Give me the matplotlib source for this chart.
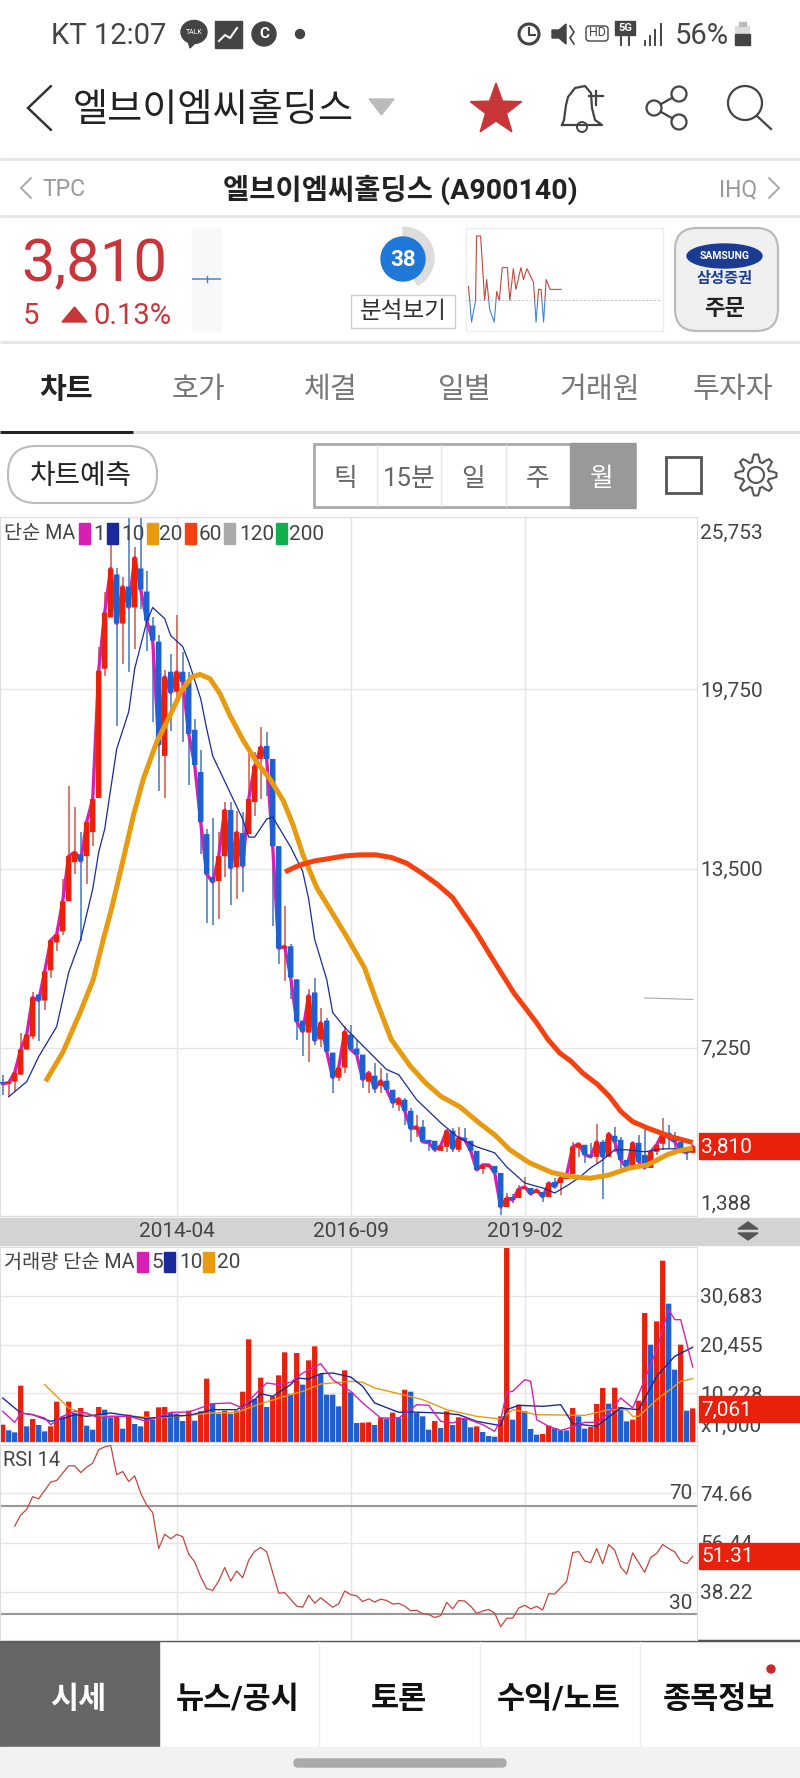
import numpy as np
import matplotlib
matplotlib.use('Agg')
import matplotlib.pyplot as plt
from matplotlib.patches import Rectangle, FancyBboxPatch, Circle, Ellipse, Polygon, Wedge
from matplotlib.transforms import ScaledTranslation

plt.rcParams['font.family'] = ['Roboto', 'Noto Sans CJK KR', 'DejaVu Sans']

# monthly candles, 2011-11 .. 2021-06
opens = [6035,6000,6070,6315,7190,7640,9110,8900,9950,10925,11310,12360,13720,14000,13930,14770,
         15960,20465,22250,23750,22040,23330,22600,23960,23155,21970,21410,17425,20360,19660,20360,20010,
         18335,16865,14700,13200,13060,13930,15540,13545,14735,14700,15820,17320,17775,17320,14280,10715,
         10790,9635,8200,7780,9180,7540,8200,7085,6210,6560,7710,7225,7015,6070,6280,5930,
         6105,5790,5265,5440,5055,4395,4500,4045,4010,3660,3800,4360,3695,4115,4010,3660,
         3030,3100,3135,2890,1700,2050,2015,2330,2365,2190,2225,2050,2575,2540,2680,2855,
         3765,3870,3520,3450,3975,3450,4185,4045,3345,3065,3940,3520,3065,3625,3905,4290,
         4150,3975,3660,3590]
highs = [6315,6035,6385,7780,7710,9180,9110,9915,10995,11205,13130,16380,15640,14770,15120,15920,
         21235,23155,24760,23960,23645,25705,24690,25740,23855,22280,21650,20430,20990,22320,21060,20360,
         18720,17635,14875,15260,14770,15820,15820,15500,15470,17565,17565,18440,18265,17320,14280,12185,
         10855,9635,8200,9285,9700,8655,8305,7085,6560,8025,8060,7540,7015,6455,6735,6560,
         6385,5790,5475,5510,5160,4915,4740,4045,4010,3835,4360,4465,4500,4465,4010,3660,
         3170,3170,3135,2890,2190,2150,2470,2750,2365,2295,2225,2540,2715,2715,2820,3975,
         3905,3870,3940,4600,4045,4325,4500,4150,3345,3940,4220,4570,3625,3870,4810,4570,
         4325,3975,3800,3810]
lows = [5616,5546,5720,6315,7190,7570,7500,8585,9670,10610,11170,12360,13300,10960,12955,14280,
        15960,20220,22250,18475,20640,20360,21165,22560,21095,18610,16200,15960,18300,19420,17915,16410,
        16865,14000,11590,11520,11730,13200,12220,12430,12670,14700,15330,15920,16030,11485,10160,9565,
        8935,7540,6980,6770,7360,7290,7120,5685,6105,6385,7190,7015,5860,5685,5685,5685,
        5790,5160,5055,4570,3975,4150,3975,3660,3625,3660,3625,3625,3625,4045,3660,2960,
        2855,3100,2890,1425,1700,1840,2015,2330,2120,2190,1875,2050,2400,2120,2680,2855,
        3450,3240,3450,3240,1980,3450,3625,3065,2960,2995,3275,3065,3065,3520,3695,3765,
        3695,3625,3345,3590]
closes = [6000,6035,6385,7190,7710,9005,8900,9915,10995,11205,12360,13930,14070,13755,15120,15920,
          20395,22420,23960,22040,23330,22600,24340,23225,22140,21445,17810,20185,19630,20360,20010,18195,
          17110,15120,13300,13025,13930,15540,13510,14770,13580,15920,17075,17740,17320,14280,10715,10790,
          9700,8165,7815,9075,7500,8130,7120,6210,6560,7815,7190,7015,6140,6385,5825,6105,
          5790,5335,5475,5055,4430,4500,3975,3940,3695,3835,4360,3730,4115,4045,3660,2995,
          3170,3170,2890,1700,2015,1945,2330,2400,2155,2295,2050,2540,2400,2715,2820,3800,
          3905,3520,3450,3975,3450,4255,3975,3345,3065,3940,3275,3065,3625,3870,4290,4115,
          3975,3660,3590,3810]

ma10_idx = [1,4,6,9,11,13,15,16,17,19,21,22,24,25,27,28,30,31,33,34,35,38,40,41,42,44,45,48,50,51,52,54,55,57,59,61,64,66,69,73,76,79,82,84,87,90,92,94,96,98,100,102,104,107,110,113,114]
ma10_val = [5546,6070,6945,7990,9880,11030,12780,14070,14875,17670,18960,20465,22100,22600,22210,21620,21235,20710,19420,18370,17425,16100,15225,14595,14595,15225,15295,14245,13400,12430,11030,9635,8480,7960,7540,7120,6490,6315,5440,4640,4115,3800,3590,3100,2540,2365,2190,2436,2715,3065,3345,3695,3695,3625,3730,3730,3695]
ma20_idx = [7.16,10.1,12.88,15.1,16.77,18.16,20.1,21.77,23.44,25.66,27.88,29.83,31.49,32.88,34.55,36.22,37.88,40.1,42.33,44.55,46.77,48.44,50.1,51.06,52.33,54.56,57.43,60.3,62.2,64.77,67.96,70.5,73.06,76.25,79.44,82,84.54,87.73,91.55,94.74,97.93,101.12,104.3,107.5,110.7,112.6,115]
ma20_val = [6080,7129,8470,9635,11030,12120,13827,15340,16622,17904,18834,19707,20175,20266,20116,19592,18834,17960,17205,16622,15864,14990,13942,13477,12837,12080,11091,10043,8935,7537,6605,6024,5556,5186,4627,4218,3694,3250,2901,2761,2704,2820,3055,3170,3520,3659,3753]
ma60_idx = [47.04,49.46,52.01,54.56,57.1,59.67,62.2,64.77,67.3,69.87,72.42,74.97,76.88,78.8,81.35,83.26,85.18,87.09,89,90.9,92.83,94.74,96.66,99.2,101.12,103.03,104.95,107.5,111.3,115]
ma60_val = [13383,13617,13767,13851,13942,13977,13977,13886,13687,13338,12953,12488,11905,11321,10448,9808,9169,8645,8121,7537,7072,6778,6373,5965,5556,5032,4683,4452,4158,3949]
stray_idx = [107,115]
stray_val = [8990,8935]

volume = [3640,2450,2030,11830,3290,4830,3570,2240,3290,8470,5390,8470,6090,7140,3430,2590,
          7350,6790,5180,5390,2800,5740,3780,3290,6440,4690,7280,7350,6090,5950,4410,6580,
          4480,6440,13300,8120,5950,6580,5950,6580,10570,21560,9030,13510,7350,9590,14000,18830,
          10080,18690,12040,17150,20090,14280,9940,9940,7490,15050,10430,3990,4060,4130,3570,5110,
          4900,6160,5180,10990,10570,6090,5390,2590,4410,2940,6440,3570,5180,4830,3080,3290,
          2100,1260,1120,5390,40950,4690,7840,6440,2730,1540,1680,3430,2870,2450,2440,7140,
          5390,2800,3150,7980,11340,8050,11410,7350,4340,4690,8680,27090,20440,25340,38080,29050,
          15190,20440,6580,7061]
vol5_idx = [0,2,3,5,7,8,10,12,14,16,18,21,24,28,31,35,38,40,42,44,46,48,50,53,55,58,60,63,66,69,71,73,75,77,80,82,83,84,85,87,88,89,91,93,95,97,99,101,103,105,107,109,111,112,113,114,115]
vol5_val = [6440,4130,6090,5740,5040,3640,5390,6440,6090,5040,5390,5390,4340,6230,6300,8050,8190,7140,9940,12390,12040,12530,14490,16450,13090,10640,8190,5040,5040,7840,7700,4340,3990,5040,3640,2240,4690,10430,10640,13090,12740,4690,3290,2450,3150,4130,4130,6090,9240,7140,13090,19390,27790,25690,25690,20790,15750]
vol10_idx = [0,3,5,8,10,12,14,18,21,24,27,31,35,39,42,43,45,48,49,51,53,55,58,60,62,66,68,73,76,79,83,84,86,90,93,95,99,103,106,109,112,115]
vol10_val = [9240,6090,5740,4340,4900,5740,5390,6090,5530,4900,5390,5600,6790,6790,8890,10150,9590,12040,13440,13230,14350,14490,13650,11690,8190,6230,6300,6090,5740,4340,3430,6790,7700,7490,7840,3850,3290,7140,6790,13790,17990,19880]
vol20_idx = [7,9,11,14,18,22,25,31,35,39,43,47,50,53,58,60,62,66,70,74,79,83,85,89,97,101,104,105,106,109,113,115]
vol20_val = [12040,9590,7140,5740,5390,5390,5040,5600,6090,6230,8050,9590,10640,12180,12740,12530,11340,10150,8890,6790,5390,4830,6790,5740,5600,6790,6790,5390,5390,8890,12740,13300]

rsi_idx = [2,3,4,5,6,8,9,11,12,13,14,15,16,17,18,19,20,21,22,23,24,25,26,27,28,29,30,31,32,33,34,35,36,37,38,39,40,41,42,43,44,46,47,49,50,51,52,53,55,56,57,58,59,60,61,62,63,64,65,66,67,68,69,70,71,72,73,74,75,76,77,78,79,80,81,82,83,84,85,86,87,88,89,90,91,92,93,94,95,96,97,98,99,100,101,102,103,104,105,107,108,109,110,111,112,113,114,115]
rsi_val = [62.5,66.6,68.7,73.4,72.6,78.8,79.4,84.8,84.8,82.3,84.3,85.8,90.8,91.8,92.4,81.5,82.7,79.0,81.1,74.7,70.3,67.5,54.2,59.5,57.8,59.4,58.6,52.1,49.3,43.7,39.4,38.7,42.2,47.2,42.2,45.9,43.4,49.9,53.2,54.6,53.0,37.7,37.9,32.9,32.5,36.9,34.0,36.0,32.5,33.8,38.5,37.2,36.7,34.6,35.6,34.4,35.5,35.0,33.7,33.9,32.9,31.2,31.4,30.1,29.8,28.7,29.4,34.3,31.9,35.0,34.8,32.9,30.2,31.1,31.7,30.3,25.3,28.4,28.5,32.2,33.2,31.9,32.8,31.5,37.5,37.4,39.7,42.0,52.7,53.1,49.6,49.0,54.2,48.6,55.7,53.6,47.4,44.8,52.6,45.4,50.9,52.4,55.7,54.2,53.0,49.6,48.6,51.31]

price_ticks = [1388, 7250, 13500, 19750, 25753]
vol_ticks = [0, 10228, 20455, 30683]
rsi_ticks = [38.22, 56.44, 74.66]
date_pos = [29, 58, 87]
date_labels = ['2014-04', '2016-09', '2019-02']

mini_pos = [916,922,930,932,940,948,952,958,967,972,977,983,993,998,1005,1010,1020,1025,1032,1045,1050,1055,1060,1065,1070,1078,1100]
mini_val = [14,-22,0,65,65,0,21,-9,-22,9,0,33,33,0,32,11,33,21,32,18,-22,11,11,-22,21,11,11]

tabs = ['차트', '호가', '체결', '일별', '거래원', '투자자']
periods = ['틱', '15분', '일', '주', '월']
bottom_tabs = ['뉴스/공시', '토론', '수익/노트', '종목정보']

RED = '#e8200c'
BLUE = '#1f5fd0'
WICK_RED = '#d9796e'
WICK_BLUE = '#6c95cc'
MAGENTA = '#d81fb4'
NAVY = '#1a2a9c'
ORANGE = '#e89a10'
RED60 = '#f5400f'
GRID = '#e6e6e6'
TXT = '#444444'

W, H = 800, 1778
fig = plt.figure(figsize=(W / 100, H / 100), dpi=100, facecolor='white')


def px_axes(left, top, right, bottom, **kw):
    return fig.add_axes([left / W, 1 - bottom / H, (right - left) / W, (bottom - top) / H], **kw)


# page chrome in pixel coordinates, behind the charts
bg = px_axes(0, 0, W, H, zorder=0)
bg.set_xlim(0, W)
bg.set_ylim(H, 0)
bg.axis('off')


def hline(a, y, x0=0, x1=W, c='#e6e6e6', lw=3):
    a.plot([x0, x1], [y, y], color=c, lw=lw * 0.72, solid_capstyle='butt')


def chevron(a, pts, c, lw):
    a.plot(*zip(*pts), color=c, lw=lw * 0.72, solid_capstyle='round', solid_joinstyle='miter')


# status bar
bg.text(51, 36, 'KT 12:07', fontsize=21, color=TXT, va='center')
bg.add_patch(Ellipse((194, 32), 26, 23, color='#444444'))
bg.add_patch(Polygon([[188, 41], [196, 42], [190, 48]], color='#444444'))
bg.text(194, 32, 'TALK', fontsize=5, color='white', ha='center', va='center')
bg.add_patch(Rectangle((215, 21), 27, 27, color='#444444'))
bg.plot([219, 225, 230, 237], [41, 35, 38, 28], color='white', lw=1.5)
bg.add_patch(Circle((264, 34), 12, color='#444444'))
bg.text(264, 34, 'C', fontsize=11, color='white', ha='center', va='center', fontweight='bold')
bg.add_patch(Circle((300, 34), 4.5, color='#444444'))
bg.add_patch(Circle((529, 34), 10, fc='white', ec='#444444', lw=2.2))
bg.plot([529, 529, 535], [28, 35, 35], color='#444444', lw=1.5)
bg.add_patch(Polygon([[552, 30], [559, 30], [566, 24], [566, 44], [559, 38], [552, 38]], color='#444444'))
bg.plot([570, 574, 570, 574], [26, 32, 38, 44], color='#444444', lw=1.2)
bg.add_patch(FancyBboxPatch((586, 26), 22, 15, boxstyle='round,pad=0,rounding_size=3', fc='white', ec='#444444', lw=1))
bg.text(597, 33, 'HD', fontsize=9, color=TXT, ha='center', va='center')
bg.add_patch(Rectangle((615, 21), 20, 14, color='#444444'))
bg.text(625, 28, '5G', fontsize=8, color='white', ha='center', va='center', fontweight='bold')
bg.plot([621, 621], [37, 45], color='#444444', lw=1.4)
bg.plot([629, 629], [37, 45], color='#444444', lw=1.4)
for sx, sy in zip([645, 650, 655, 661], [41, 36, 30, 24]):
    bg.plot([sx, sx], [sy, 45], color='#444444', lw=1.4)
bg.text(675, 36, '56%', fontsize=21, color=TXT, va='center')
bg.add_patch(Rectangle((735, 26), 15, 19, fc='#dddddd', ec='none'))
bg.add_patch(Rectangle((735, 34), 15, 11, color='#444444'))
bg.add_patch(Rectangle((739, 22), 7, 4, color='#bbbbbb'))

# title row
chevron(bg, [(51, 86), (28, 108), (51, 130)], '#333333', 2.5)
bg.text(73, 110, '엘브이엠씨홀딩스', fontsize=27.5, color='#222222', va='center')
bg.add_patch(Polygon([[369, 99], [394, 99], [381.5, 115]], color='#bbbbbb'))
star_a = np.deg2rad(np.arange(-90, 270, 36))
star_r = np.where(np.arange(10) % 2 == 0, 27, 11)
bg.add_patch(Polygon(np.c_[496 + star_r * np.cos(star_a), 110 + star_r * np.sin(star_a)], color='#c8363a'))
bg.plot([562, 564, 566, 568, 575, 585, 591, 592, 595, 602, 562],
        [125, 120, 105, 97, 88, 86, 93, 108, 120, 125, 125], color='#444444', lw=1.6)
bg.add_patch(Circle((582, 127), 5, fc='none', ec='#444444', lw=1.4))
bg.plot([596, 596], [91, 105], color='#444444', lw=1.6)
bg.plot([589, 603], [96, 96], color='#444444', lw=1.6)
bg.plot([679, 654, 679], [94, 108, 122], color='#444444', lw=1.6)
for cx, cy in [(679, 94), (654, 108), (679, 122)]:
    bg.add_patch(Circle((cx, cy), 7.5, fc='white', ec='#444444', lw=1.6, zorder=3))
bg.add_patch(Circle((745, 103), 17, fc='none', ec='#444444', lw=1.6))
bg.plot([757, 771], [116, 129], color='#444444', lw=1.6)
hline(bg, 159)

# stock name row
chevron(bg, [(31, 178), (21, 188), (31, 198)], '#aaaaaa', 2)
bg.text(42, 190, 'TPC', fontsize=16.5, color='#999999', va='center')
bg.text(400, 190, '엘브이엠씨홀딩스 (A900140)', fontsize=20.5, color='#222222', ha='center', va='center', fontweight='bold')
bg.text(757, 190, 'IHQ', fontsize=16.5, color='#999999', ha='right', va='center')
chevron(bg, [(769, 178), (779, 188), (769, 198)], '#aaaaaa', 2)
hline(bg, 216)

# price row
bg.text(21, 265, '3,810', fontsize=43, color='#c8353a', va='center')
bg.text(23, 316, '5', fontsize=21, color='#c8353a', va='center')
bg.add_patch(Polygon([[62, 322], [87, 322], [74.5, 307]], color='#c8353a'))
bg.text(93, 316, '0.13%', fontsize=21, color='#c8353a', va='center')
bg.add_patch(Rectangle((192, 228), 29, 103, color='#f8f8f8'))
hline(bg, 279, 192, 221, '#4a80c0', 1.5)
bg.plot([206.5, 206.5], [276, 282], color='#4a80c0', lw=1)
bg.add_patch(Wedge((403, 258), 31, -90, 62, width=9, color='#dcdcdc'))
bg.add_patch(Circle((403, 259), 22, color='#1f78d8'))
bg.text(403, 260, '38', fontsize=16, color='white', ha='center', va='center', fontweight='bold')
bg.add_patch(Rectangle((351, 295), 104, 33, fc='white', ec='#cccccc', lw=1))
bg.text(403, 312, '분석보기', fontsize=17, color='#333333', ha='center', va='center')
bg.add_patch(Rectangle((466, 228), 197, 103, fc='white', ec='#eeeeee', lw=1))
bg.add_patch(FancyBboxPatch((675, 228), 103, 103, boxstyle='round,pad=0,rounding_size=22', fc='#f0f0f0', ec='#bbbbbb', lw=1.6))
bg.add_patch(Ellipse((724.5, 256), 75, 24, color='#1c3c94'))
bg.text(724.5, 256, 'SAMSUNG', fontsize=7.5, color='white', ha='center', va='center', fontweight='bold')
bg.text(725, 279, '삼성증권', fontsize=11, color='#1c3c94', ha='center', va='center', fontweight='bold')
bg.text(725, 309, '주문', fontsize=16, color='#222222', ha='center', va='center', fontweight='bold')
hline(bg, 342)

# tab row
tab_x = [66, 198, 331, 465, 600, 733]
for k, (tx, tab) in enumerate(zip(tab_x, tabs)):
    bg.text(tx, 390, tab, fontsize=21, ha='center', va='center',
            color='#222222' if k == 0 else '#777777', fontweight='bold' if k == 0 else 'normal')
hline(bg, 432, c='#dddddd', lw=3)
hline(bg, 432, 0, 133, '#222222', 3)

# toolbar
bg.add_patch(FancyBboxPatch((8, 446), 149, 57, boxstyle='round,pad=0,rounding_size=28', fc='white', ec='#bbbbbb', lw=1.5))
bg.text(81, 477, '차트예측', fontsize=20, color='#222222', ha='center', va='center')
bg.add_patch(Rectangle((314, 444), 321, 63, fc='white', ec='#aaaaaa', lw=2))
bg.add_patch(Rectangle((570, 443), 65, 65, color='#999999'))
for sx in [377, 441, 506]:
    bg.plot([sx, sx], [445, 506], color='#e6e6e6', lw=1)
for k, (tx, per) in enumerate(zip([345, 409, 473, 538, 602], periods)):
    bg.text(tx, 479, per, fontsize=18.5, ha='center', va='center', color='white' if k == 4 else '#666666')
bg.add_patch(Rectangle((666, 457), 35, 36, fc='white', ec='#555555', lw=2))
gear_a = np.linspace(0, 2 * np.pi, 65)
gear_r = 17 + 3.5 * np.clip(2.2 * np.cos(8 * gear_a), -1, 1)
bg.add_patch(Polygon(np.c_[756 + gear_r * np.cos(gear_a), 475 + gear_r * np.sin(gear_a)], fc='white', ec='#555555', lw=1.5))
bg.add_patch(Circle((756, 475), 8, fc='white', ec='#555555', lw=1.5))

# band under the price chart
bg.add_patch(Rectangle((0, 1218), W, 27, color='#d3d3d3'))
bg.add_patch(Polygon([[738, 1229], [758, 1229], [748, 1222]], color='#555555'))
bg.add_patch(Polygon([[738, 1233], [758, 1233], [748, 1240]], color='#555555'))

# bottom bar
hline(bg, 1641, c='#555555', lw=2.5)
bg.add_patch(Rectangle((0, 1642), 159, 105, color='#666666'))
bg.text(78, 1699, '시세', fontsize=22, color='white', ha='center', va='center', fontweight='bold')
for tx, tab in zip([238, 399, 559, 719], bottom_tabs):
    bg.text(tx, 1699, tab, fontsize=22, color='#111111', ha='center', va='center', fontweight='bold')
for sx in [319, 480, 640]:
    bg.plot([sx, sx], [1642, 1747], color='#eeeeee', lw=1)
bg.add_patch(Circle((771, 1669), 4, color='#c8282c'))
bg.add_patch(Rectangle((0, 1747), W, 31, color='#f2f2f2'))
bg.add_patch(FancyBboxPatch((294, 1759), 212, 8, boxstyle='round,pad=0,rounding_size=4', color='#aaaaaa'))


def setup_panel(ax, ticks, labels, ylim):
    ax.set_xlim(-0.45, 115.72)
    ax.set_ylim(*ylim)
    ax.set_xticks(date_pos)
    ax.set_yticks(ticks)
    ax.set_yticklabels(labels)
    ax.yaxis.tick_right()
    ax.grid(True, color=GRID, lw=1.0)
    ax.set_axisbelow(True)
    ax.tick_params(length=0, labelsize=15, labelcolor=TXT, pad=2.5)
    for sp in ax.spines.values():
        sp.set_color('#dddddd')
        sp.set_linewidth(0.8)


def shift_label(ax, k, dy):
    lab = ax.get_yticklabels()[k]
    lab.set_transform(lab.get_transform() + ScaledTranslation(0, dy / 100, fig.dpi_scale_trans))


idx = np.arange(len(closes))
o, hi, lo, c = map(np.array, (opens, highs, lows, closes))
up = c >= o
body_low = np.minimum(o, c)
body_h = np.maximum(np.abs(c - o), 60)

# price panel
ax = px_axes(0, 517, 697, 1216, zorder=1)
setup_panel(ax, price_ticks, [f'{t:,}' for t in price_ticks], (1388, 25753))
ax.set_xticklabels(date_labels)
ax.tick_params(axis='x', pad=4)
shift_label(ax, 0, 14)
shift_label(ax, 4, -14)
ax.vlines(idx, lo, hi, colors=[WICK_RED if u else WICK_BLUE for u in up], lw=1.4, zorder=2)
ax.plot(idx, c, color=MAGENTA, lw=2.4, zorder=3)
ax.bar(idx, body_h, bottom=body_low, width=0.92, color=[RED if u else BLUE for u in up], lw=0, zorder=4, snap=False)
ax.plot(ma10_idx, ma10_val, color=NAVY, lw=0.9, zorder=5)
ax.plot(ma20_idx, ma20_val, color=ORANGE, lw=3.6, zorder=5, solid_capstyle='butt', solid_joinstyle='round')
ax.plot(ma60_idx, ma60_val, color=RED60, lw=3.6, zorder=5, solid_capstyle='butt', solid_joinstyle='round')
ax.plot(stray_idx, stray_val, color='#aaaaaa', lw=0.8, zorder=5)

# volume panel, bars are red when volume rose from the month before
vol = np.array(volume)
vol_up = np.r_[True, vol[1:] > vol[:-1]]
ax_v = px_axes(0, 1247, 697, 1442, zorder=1)
setup_panel(ax_v, vol_ticks, ['x1,000', '10,228', '20,455', '30,683'], (0, 40950))
ax_v.tick_params(axis='x', labelbottom=False)
shift_label(ax_v, 0, 18)
ax_v.bar(idx, vol, width=0.88, color=[RED if u else BLUE for u in vol_up], lw=0, zorder=2, snap=False)
ax_v.plot(vol20_idx, vol20_val, color=ORANGE, lw=1.0, zorder=3)
ax_v.plot(vol10_idx, vol10_val, color=NAVY, lw=1.0, zorder=3)
ax_v.plot(vol5_idx, vol5_val, color=MAGENTA, lw=1.0, zorder=3)

# rsi panel
ax_r = px_axes(0, 1445, 697, 1640, zorder=1)
setup_panel(ax_r, rsi_ticks, [f'{t:.2f}' for t in rsi_ticks], (20.38, 92.5))
ax_r.tick_params(axis='x', labelbottom=False)
ax_r.axhline(70, color='#999999', lw=1.5, zorder=2)
ax_r.axhline(30, color='#999999', lw=1.5, zorder=2)
ax_r.plot(rsi_idx, rsi_val, color='#c8453c', lw=0.9, zorder=3)
ax_r.text(0.993, 74.66, '70', transform=ax_r.get_yaxis_transform(), fontsize=15, color=TXT, ha='right', va='center')
ax_r.text(0.993, 33.9, '30', transform=ax_r.get_yaxis_transform(), fontsize=15, color=TXT, ha='right', va='center')

# mini chart in the header
ax_m = px_axes(467, 229, 662, 330, zorder=1)
ax_m.set_xlim(913, 1300)
ax_m.set_ylim(-30, 72)
ax_m.axis('off')
ax_m.axhline(0, color='#bbbbbb', lw=0.7, ls=(0, (2, 2)))
l1, = ax_m.plot(mini_pos, mini_val, color='#c8453c', lw=0.8)
l2, = ax_m.plot(mini_pos, mini_val, color='#3f86d0', lw=0.8)
l1.set_clip_path(Rectangle((913, 0), 387, 72, transform=ax_m.transData))
l2.set_clip_path(Rectangle((913, -30), 387, 30, transform=ax_m.transData))

# overlay: legends and current value tags
top = px_axes(0, 0, W, H, zorder=2)
top.set_xlim(0, W)
top.set_ylim(H, 0)
top.axis('off')
top.patch.set_alpha(0)

top.text(4, 534, '단순 MA', fontsize=14.2, color=TXT, va='center')
for sx, col, lx, name in zip([79, 107, 147, 185, 224, 276],
                             [MAGENTA, NAVY, ORANGE, RED60, '#aaaaaa', '#10b050'],
                             [93, 121, 159, 199, 239, 289],
                             ['1', '10', '20', '60', '120', '200']):
    top.add_patch(Rectangle((sx, 523), 10.5, 21, color=col))
    top.text(lx, 534, name, fontsize=15, color=TXT, va='center')

top.text(4, 1263, '거래량 단순 MA', fontsize=14.2, color=TXT, va='center')
for sx, col, lx, name in zip([137, 164, 203], [MAGENTA, NAVY, ORANGE], [151, 179, 217], ['5', '10', '20']):
    top.add_patch(Rectangle((sx, 1252), 10.5, 20, color=col))
    top.text(lx, 1263, name, fontsize=15, color=TXT, va='center')
top.text(3, 1461, 'RSI 14', fontsize=14.5, color=TXT, va='center')

for y0, y1, name in [(1133, 1159, '3,810'), (1396, 1422, '7,061'), (1543, 1569, '51.31')]:
    top.add_patch(Rectangle((699, y0), 101, y1 - y0, color=RED))
    top.text(701, (y0 + y1) / 2 + 1, name, fontsize=15, color='white', va='center')

fig.savefig('out.png', dpi=100)
